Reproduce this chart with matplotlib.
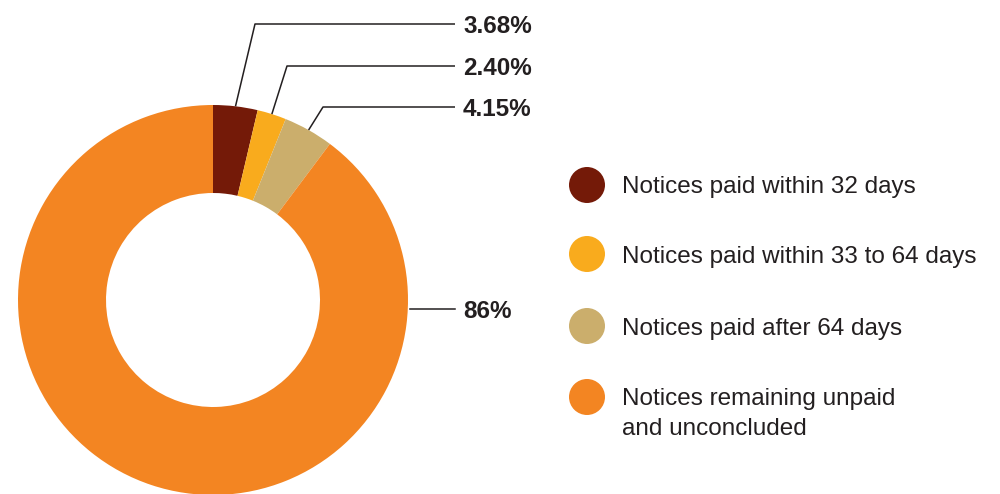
import numpy as np
import matplotlib
matplotlib.use("Agg")
import matplotlib.pyplot as plt
from matplotlib.patches import Circle

plt.rcParams['font.family'] = ['Liberation Sans', 'DejaVu Sans']

# data
categories = ["Notices paid within 32 days",
              "Notices paid within 33 to 64 days",
              "Notices paid after 64 days",
              "Notices remaining unpaid\nand unconcluded"]
paid_shares = [3.68, 2.40, 4.15]
share_labels = ["3.68%", "2.40%", "4.15%", "86%"]
colors = ["#741a08", "#f9ab1d", "#cbae6c", "#f38522"]

# the unpaid wedge fills what is left of the ring
values = paid_shares + [100 - sum(paid_shares)]

W, H = 1000, 494
fig = plt.figure(figsize=(W / 100, H / 100), dpi=100)
ax = fig.add_axes([0, 0, 1, 1])

cx, cy, R, ring = 213, 194, 195, 88
ax.pie(values, colors=colors, startangle=90, counterclock=False,
       center=(cx, cy), radius=R,
       wedgeprops=dict(width=ring, edgecolor='none'))
ax.set_xlim(0, W)
ax.set_ylim(0, H)
ax.set_aspect('auto')
ax.axis('off')

txt = "#231f20"
fs = 17.5

# leader lines for the small wedges
fr = np.array(values) / sum(values)
mid = (np.cumsum(fr) - fr / 2) * 2 * np.pi
row_y = [470, 428, 387]
elbow_x = [255, 287, 323]
end_x, text_x = 455, 463
for i in range(3):
    sx = cx + R * np.sin(mid[i])
    sy = cy + R * np.cos(mid[i])
    ax.plot([sx, elbow_x[i], end_x], [sy, row_y[i], row_y[i]],
            color=txt, lw=1.1, solid_capstyle='butt')
    ax.text(text_x, row_y[i], share_labels[i], fontsize=fs, fontweight='bold',
            color=txt, va='center_baseline', ha='left')

# label for the large wedge at the right edge of the ring
y86 = 185
ax.plot([cx + R * np.sqrt(1 - ((y86 - cy) / R) ** 2) + 2, end_x], [y86, y86],
        color=txt, lw=1.1)
ax.text(text_x, y86, share_labels[3], fontsize=fs, fontweight='bold',
        color=txt, va='center_baseline', ha='left')

# legend
leg_x, leg_r = 587, 18
leg_y = [309, 240, 168, 97]
for c, lab, y in zip(colors, categories, leg_y):
    ax.add_patch(Circle((leg_x, y), leg_r, color=c, lw=0))
    for j, line in enumerate(lab.split("\n")):
        ax.text(622, y - j * 29, line, fontsize=fs, color=txt,
                va='center_baseline', ha='left')

fig.savefig("out.png", dpi=100)
